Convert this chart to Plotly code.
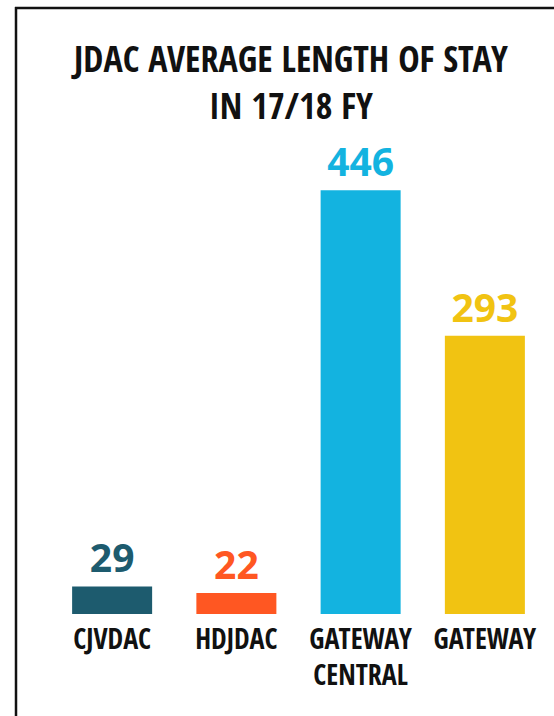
import plotly.graph_objects as go

categories = ["CJVDAC", "HDJDAC", "GATEWAY<br>CENTRAL", "GATEWAY"]
values = [29, 22, 446, 293]
colors = ["#1D5B6E", "#FF5722", "#13B3E0", "#F1C312"]
title_lines = ["JDAC AVERAGE LENGTH OF STAY", "IN 17/18 FY"]

W, H = 554, 716
ml, mr, mt, mb = 50, 7, 139, 102
pw, ph = W - ml - mr, H - mt - mb

def px_x(x):
    return (x - ml) / pw

def px_y(y):
    return (H - mb - y) / ph

cond = "Open Sans Condensed, Roboto Condensed, sans-serif"

fig = go.Figure(go.Bar(
    x=categories, y=values,
    marker=dict(color=colors, line=dict(width=0)),
    width=0.644,
    text=[str(v) for v in values],
    textposition="outside",
    cliponaxis=False,
    textfont=dict(family="Open Sans", size=39, color=colors, weight="bold"),
))

fig.update_layout(
    width=W, height=H,
    margin=dict(l=ml, r=mr, t=mt, b=mb),
    paper_bgcolor="white", plot_bgcolor="white",
    showlegend=False,
    bargap=0.356,
    xaxis=dict(showgrid=False, zeroline=False, showline=False, ticks="", tickangle=0,
               ticklabelstandoff=6,
               tickfont=dict(family=cond, size=28, color="#111", weight="bold")),
    yaxis=dict(range=[0, 500], visible=False),
    annotations=[
        dict(text=title_lines[0], x=px_x(289), y=px_y(58), xref="paper", yref="paper",
             xanchor="center", yanchor="middle", showarrow=False,
             font=dict(family=cond, size=36, color="#111", weight="bold")),
        dict(text=title_lines[1], x=px_x(291), y=px_y(106), xref="paper", yref="paper",
             xanchor="center", yanchor="middle", showarrow=False,
             font=dict(family=cond, size=36, color="#111", weight="bold")),
    ],
    shapes=[
        dict(type="line", xref="paper", yref="paper",
             x0=px_x(16), x1=px_x(16), y0=px_y(7), y1=px_y(720), line=dict(color="#111", width=2.5)),
        dict(type="line", xref="paper", yref="paper",
             x0=px_x(15), x1=px_x(560), y0=px_y(8), y1=px_y(8), line=dict(color="#111", width=2.5)),
    ],
)

fig.write_html("out.html", config={"displayModeBar": False},
               post_script="document.body.style.margin='0';document.body.style.overflow='hidden';"
                           "document.documentElement.style.overflow='hidden';")
